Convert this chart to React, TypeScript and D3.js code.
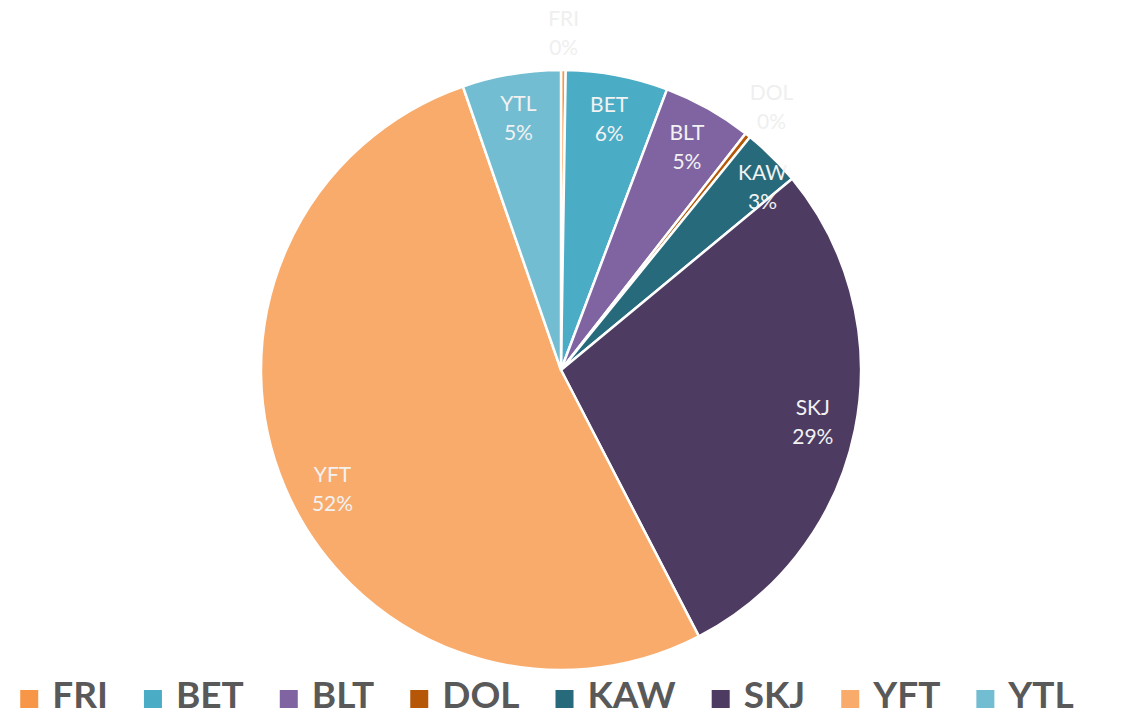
import React from "react";
import * as d3 from "d3";

const categories = ["FRI", "BET", "BLT", "DOL", "KAW", "SKJ", "YFT", "YTL"];
const values = [0.25, 5.5, 4.8, 0.3, 3.15, 28.4, 52.3, 5.3];
const labelTexts = ["0%", "6%", "5%", "0%", "3%", "29%", "52%", "5%"];
const colors = ["#F79646", "#4BACC6", "#8064A2", "#B65708", "#276A7C", "#4D3B62", "#F9AB6B", "#72BDD1"];
const outsideLabels = ["FRI", "DOL"];

const W = 1127;
const H = 717;
const cx = 561;
const cy = 370;
const R = 300;

function measure(text: string, font: string): number {
  const c = document.createElement("canvas");
  const ctx = c.getContext("2d");
  if (!ctx) return text.length * 20;
  ctx.font = font;
  return ctx.measureText(text).width;
}

export default function App() {
  const data = categories.map((c, i) => ({ name: c, value: values[i], pct: labelTexts[i], color: colors[i] }));
  const pie = d3.pie<any>().value((d: any) => d.value).sort(null);
  const arcs = pie(data);
  const arc = d3.arc<any>().innerRadius(0).outerRadius(R);

  const legendFont = "bold 37px Lato";
  const marker = 18;
  const markerGap = 14;
  const itemGap = 36;
  const widths = categories.map((c) => marker + markerGap + measure(c, legendFont));
  const total = widths.reduce((a, b) => a + b, 0) + itemGap * (categories.length - 1);
  let x0 = 547 - total / 2;
  const legendItems = categories.map((c, i) => {
    const x = x0;
    x0 += widths[i] + itemGap;
    return { name: c, x, color: colors[i] };
  });

  return (
    <svg width={W} height={H} style={{ position: "absolute", left: 0, top: 0, background: "#fff" }}>
      <g transform={`translate(${cx},${cy})`}>
        {arcs.map((a, i) => (
          <path key={i} d={arc(a) as string} fill={a.data.color} stroke="#fff" strokeWidth={2.5} strokeLinejoin="round" />
        ))}
        {arcs.map((a, i) => {
          let mid = (a.startAngle + a.endAngle) / 2;
          const outside = outsideLabels.includes(a.data.name);
          let r = outside ? 338 : a.data.name === "KAW" ? 273 : 257;
          if (a.data.name === "YFT") mid -= 0.07;
          if (a.data.name === "KAW") mid += 0.05;
          const x = r * Math.sin(mid);
          const y = -r * Math.cos(mid);
          const fill = outside ? "#EFEFEF" : "#F2F2F2";
          return (
            <text key={"l" + i} x={x} y={y} textAnchor="middle" fontFamily="Lato, 'Open Sans', sans-serif" fontSize={21} fill={fill}>
              <tspan x={x} dy={-6}>{a.data.name}</tspan>
              <tspan x={x} dy={29}>{a.data.pct}</tspan>
            </text>
          );
        })}
      </g>
      <g>
        {legendItems.map((it, i) => (
          <g key={"g" + i}>
            <rect x={it.x} y={690} width={marker} height={marker} fill={it.color} />
            <text x={it.x + marker + markerGap} y={708} fontFamily="Lato, sans-serif" fontWeight="bold" fontSize={37} fill="#595959">
              {it.name}
            </text>
          </g>
        ))}
      </g>
    </svg>
  );
}
